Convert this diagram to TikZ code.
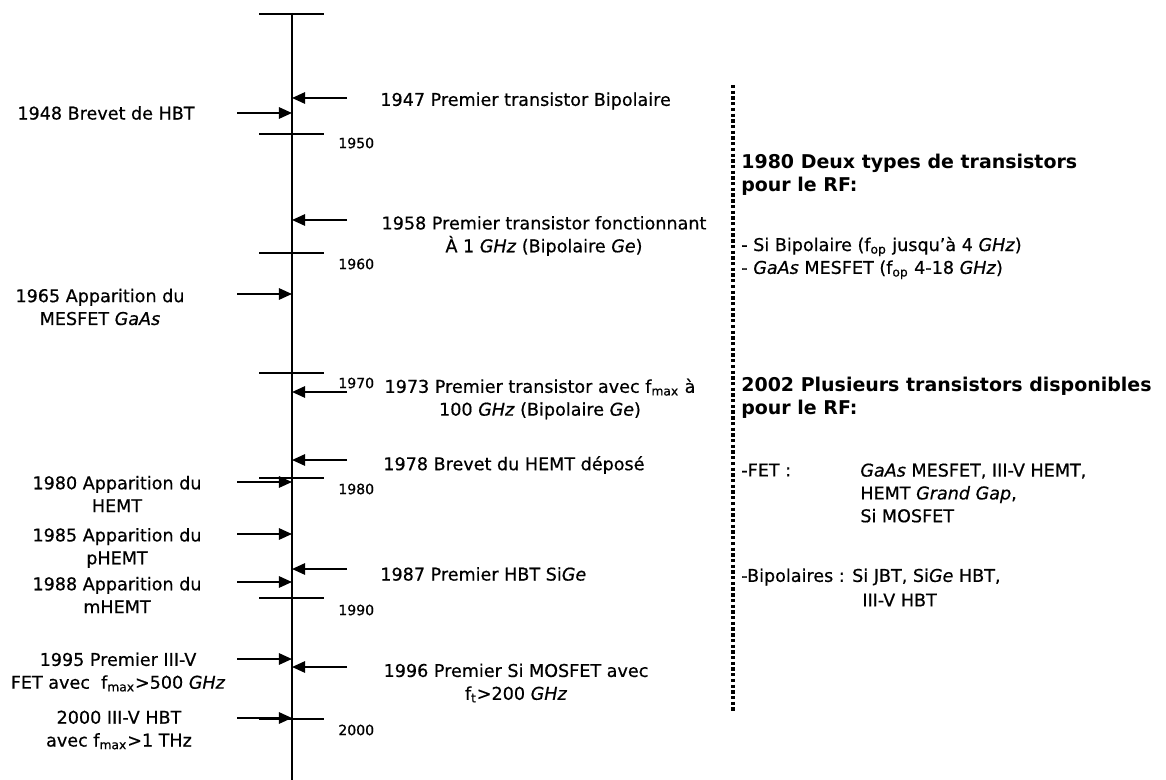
\documentclass[tikz,border=0pt]{standalone}
\usepackage{fontspec}
\setmainfont{DejaVu Sans}[UprightFeatures={FakeBold=0.6}, ItalicFeatures={FakeBold=0.6}]
\usetikzlibrary{arrows.meta}
\newcommand{\fsub}[1]{f\textsubscript{#1}}

\begin{document}
\begin{tikzpicture}[x=0.02cm, y=-0.02cm,
    evarrow/.style={-{Triangle[length=7.5pt,width=6.5pt]}, line width=1.1pt},
    yeartick/.style={line width=0.7pt},
    evlabel/.style={font=\fontsize{10}{13}\selectfont, align=center, inner sep=0pt},
    yearlabel/.style={font=\fontsize{8}{9}\selectfont, anchor=west, inner sep=0pt},
    notehead/.style={font=\fontsize{10.8}{13}\selectfont\bfseries, align=left, anchor=west, inner sep=0pt},
    notetext/.style={font=\fontsize{10}{13}\selectfont, align=left, anchor=west, inner sep=0pt}]
    \useasboundingbox (0,0) rectangle (1166,780);

    % time axis
    \coordinate (top) at (292,13);
    \coordinate (bot) at (292,780);
    \draw[line width=1pt] (top) -- (bot);
    \foreach \y [count=\i] in {14,134,253,373,478,598,719} {
        \coordinate (tl\i) at (259,\y);
        \coordinate (tr\i) at (324,\y);
        \draw[yeartick] (tl\i) -- (tr\i);
    }
    \foreach \y/\yr in {143/1950, 264/1960, 383/1970, 489/1980, 610/1990, 730/2000}
        \node[yearlabel] (y\yr) at (338,\y) {\yr};

    % arrows from the right
    \foreach \y [count=\i] in {98,220,392,460,569,667} {
        \coordinate (rs\i) at (347,\y);
        \coordinate (re\i) at (292,\y);
        \draw[evarrow] (rs\i) -- (re\i);
    }
    % arrows from the left
    \foreach \y [count=\i] in {113,294,482,534,582,659,718} {
        \coordinate (ls\i) at (237,\y);
        \coordinate (le\i) at (292,\y);
        \draw[evarrow] (ls\i) -- (le\i);
    }

    % events on the left
    \node[evlabel] (hbt48) at (106,113) {1948 Brevet de HBT};
    \node[evlabel] (mes65) at (100,307) {1965 Apparition du\\MESFET \textit{GaAs}};
    \node[evlabel] (hemt80) at (117,494) {1980 Apparition du\\HEMT};
    \node[evlabel] (phemt85) at (117,548) {1985 Apparition du\\pHEMT};
    \node[evlabel] (mhemt88) at (117,595) {1988 Apparition du\\mHEMT};
    \node[evlabel] (fet95) at (118,672) {1995 Premier III-V\\FET avec\ \ \fsub{max}>500 \textit{GHz}};
    \node[evlabel] (hbt00) at (119,730) {2000 III-V HBT\\avec \fsub{max}>1 THz};

    % events on the right
    \node[evlabel, anchor=west] (bip47) at (380,101) {1947 Premier transistor Bipolaire};
    \node[evlabel] (ghz58) at (544,236) {1958 Premier transistor fonctionnant\\À 1 \textit{GHz} (Bipolaire \textit{Ge})};
    \node[evlabel] (fmax73) at (540,399) {1973 Premier transistor avec \fsub{max} à\\100 \textit{GHz} (Bipolaire \textit{Ge})};
    \node[evlabel, anchor=west] (hemt78) at (383,465) {1978 Brevet du HEMT déposé};
    \node[evlabel, anchor=west] (sige87) at (380,574) {1987 Premier HBT Si\textit{Ge}};
    \node[evlabel] (mos96) at (516,683) {1996 Premier Si MOSFET avec\\\fsub{t}>200 \textit{GHz}};

    % separator and summary
    \coordinate (sepa) at (733,85);
    \coordinate (sepb) at (733,712);
    \draw[line width=2.2pt, dash pattern=on 1.9pt off 1.35pt] (sepa) -- (sepb);

    \node[notehead] (rf80) at (741,175) {1980 Deux types de transistors\\pour le RF:};
    \node[notetext] (list80) at (741,258) {- Si Bipolaire (\fsub{op} jusqu’à 4 \textit{GHz})\\- \textit{GaAs} MESFET (\fsub{op} 4-18 \textit{GHz})};
    \node[notehead] (rf02) at (741,398) {2002 Plusieurs transistors disponibles\\pour le RF:};
    \node[notetext] (fet02) at (741,470) {-FET :};
    \node[notetext] (fetlist) at (860,493) {\textit{GaAs} MESFET, III-V HEMT,\\HEMT \textit{Grand Gap},\\Si MOSFET};
    \node[notetext] (bip02) at (741,577) {-Bipolaires : Si JBT, Si\textit{Ge} HBT,};
    \node[notetext] (biplist) at (862,600) {III-V HBT};
\end{tikzpicture}
\end{document}
